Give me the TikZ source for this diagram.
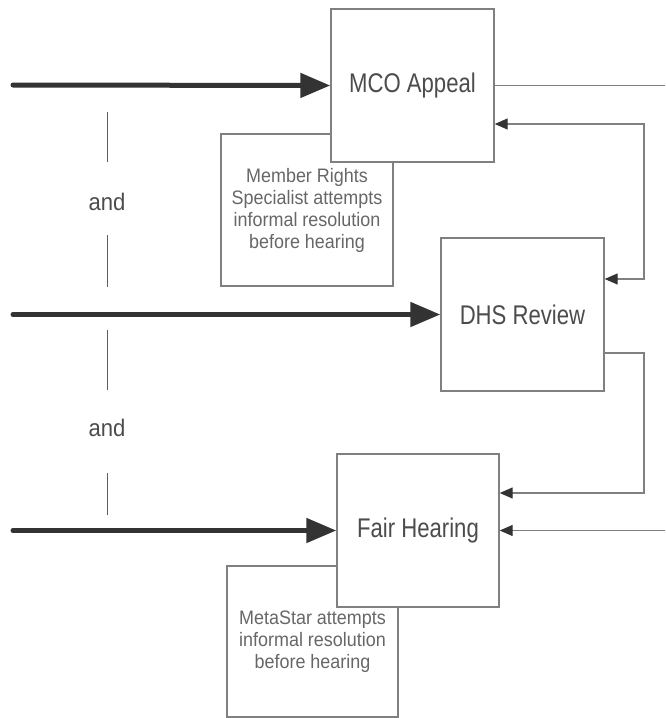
\documentclass[tikz,border=0pt]{standalone}
\usepackage{fontspec}
\setmainfont{Liberation Sans}
\newfontfamily\narrowsans[FakeStretch=0.82]{Liberation Sans}
\newfontfamily\notesans[FakeStretch=0.92]{Liberation Sans}
\usetikzlibrary{arrows.meta,positioning}
\definecolor{boxline}{gray}{0.5}
\definecolor{boxtext}{gray}{0.3}
\definecolor{flow}{gray}{0.2}

\begin{document}
\begin{tikzpicture}[x=1pt,y=-1pt,
  stage/.style={draw=boxline, line width=1.4pt, fill=white, inner sep=0pt,
    minimum width=163pt, minimum height=153pt, text=boxtext,
    font=\narrowsans\fontsize{27}{30}\selectfont},
  note/.style={draw=boxline, line width=1.2pt, fill=white, inner sep=0pt,
    minimum width=172pt, minimum height=152pt, align=center, text=boxtext!85,
    font=\notesans\fontsize{19.5}{22}\selectfont},
  entry/.style={draw=flow, line width=5pt, line cap=round,
    -{Triangle[length=30pt,width=24pt]}},
  link/.style={draw=boxline, line width=1.3pt},
  tip/.tip={Triangle[length=13pt,width=11pt,color=flow]},
  sep/.style={draw=flow!80, line width=1pt},
  conj/.style={text=boxtext, font=\notesans\fontsize{24}{26}\selectfont}]
  \useasboundingbox (0,0) rectangle (665,718);
  % note boxes (behind the stage boxes)
  \node[note] (mrs) at (307,210)
    {Member Rights\\Specialist attempts\\informal resolution\\before hearing};
  \node[note, minimum width=171pt, minimum height=151pt] (meta) at (312.5,641.5)
    {MetaStar attempts\\informal resolution\\before hearing};
  % stage boxes
  \node[stage] (mco)  at (412.5,85.5)  {MCO Appeal};
  \node[stage] (dhs)  at (522.5,314.5) {DHS Review};
  \node[stage, minimum width=162pt] (fair) at (418,530.5) {Fair Hearing};
  % entry points on the left
  \coordinate (in1) at (13,85);
  \coordinate (in2) at (13,314.5);
  \coordinate (in3) at (13,530.5);
  \draw[entry] (in1) -- (mco.west);
  \draw[entry] (in2) -- (dhs.west);
  \draw[entry] (in3) -- (fair.west);
  % "and" between the entries
  \node[conj] (and1) at (107,202) {and};
  \node[conj] (and2) at (107,428) {and};
  \foreach \a/\b in {112/162,235/287,330/390,473/515}
    \draw[sep] (107,\a) -- (107,\b);
  % links on the right
  \coordinate (mout) at (665,85.5);
  \coordinate (r1) at (644,124);
  \coordinate (r2) at (644,279);
  \coordinate (r3) at (644,353);
  \coordinate (r4) at (644,493);
  \coordinate (fin) at (665,530.5);
  \draw[link] (mco.east) -- (mout);
  \draw[link, tip-tip] (mco.east |- r1) -- (r1) -- (r2) -- (dhs.east |- r2);
  \draw[link, -tip] (dhs.east |- r3) -- (r3) -- (r4) -- (fair.east |- r4);
  \draw[link, -tip] (fin) -- (fair.east);
\end{tikzpicture}
\end{document}
